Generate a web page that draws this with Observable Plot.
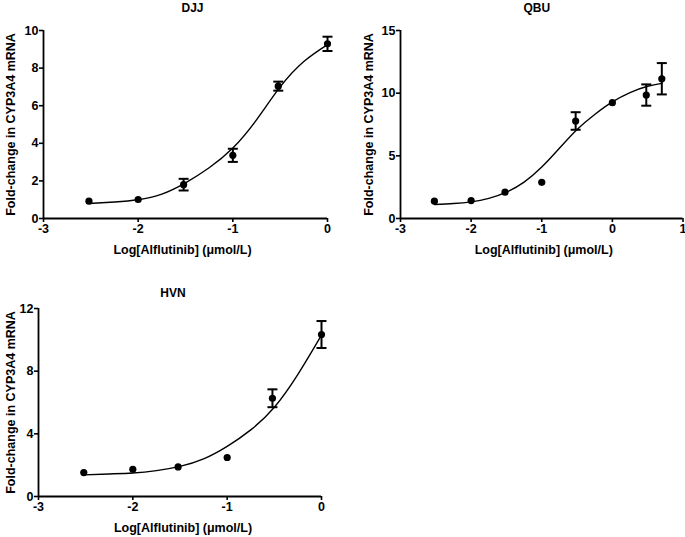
<!DOCTYPE html>
<html>
<head>
<meta charset="utf-8">
<script src="https://cdn.jsdelivr.net/npm/d3@7"></script>
<script src="https://cdn.jsdelivr.net/npm/@observablehq/plot@0.6"></script>
<style>
  html, body { margin: 0; padding: 0; background: #fff; }
  #chart { position: relative; width: 685px; height: 537px; overflow: hidden; background: #fff; }
  .panel { position: absolute; }
  .panel svg { overflow: visible; }
</style>
</head>
<body>
<div id="chart"></div>
<script>
// ---- Data ----
const xAxisLabel = "Log[Alflutinib] (μmol/L)";
const yAxisLabel = "Fold-change in CYP3A4 mRNA";

// DJJ
const djjTitle = "DJJ";
const djjLogDose = [-2.52, -2, -1.52, -1, -0.52, 0];
const djjMean = [0.92, 1.01, 1.80, 3.36, 7.04, 9.29];
const djjSem = [0, 0, 0.31, 0.35, 0.24, 0.38];
const djjCurveX = [-2.52, -2.25, -2, -1.75, -1.5, -1.25, -1, -0.75, -0.5, -0.25, 0];
const djjCurveY = [0.80, 0.88, 1.0, 1.3, 1.9, 2.7, 3.75, 5.25, 7.0, 8.35, 9.25];
const djjXTicks = [-3, -2, -1, 0];
const djjYTicks = [0, 2, 4, 6, 8, 10];

// QBU
const qbuTitle = "QBU";
const qbuLogDose = [-2.52, -2, -1.52, -1, -0.52, 0, 0.48, 0.7];
const qbuMean = [1.38, 1.43, 2.10, 2.89, 7.78, 9.24, 9.85, 11.15];
const qbuSem = [0, 0, 0, 0, 0.70, 0, 0.85, 1.25];
const qbuCurveX = [-2.52, -2.25, -2, -1.75, -1.5, -1.25, -1, -0.75, -0.5, -0.25, 0, 0.25, 0.5, 0.7];
const qbuCurveY = [1.12, 1.2, 1.33, 1.6, 2.1, 2.9, 4.1, 5.6, 7.1, 8.3, 9.3, 10.05, 10.55, 10.78];
const qbuXTicks = [-3, -2, -1, 0, 1];
const qbuYTicks = [0, 5, 10, 15];

// HVN
const hvnTitle = "HVN";
const hvnLogDose = [-2.52, -2, -1.52, -1, -0.52, 0];
const hvnMean = [1.53, 1.74, 1.89, 2.49, 6.27, 10.34];
const hvnSem = [0, 0, 0, 0, 0.57, 0.86];
const hvnCurveX = [-2.52, -2.25, -2, -1.75, -1.5, -1.25, -1, -0.75, -0.5, -0.25, 0];
const hvnCurveY = [1.38, 1.44, 1.5, 1.65, 1.92, 2.4, 3.2, 4.25, 5.7, 7.8, 10.3];
const hvnXTicks = [-3, -2, -1, 0];
const hvnYTicks = [0, 4, 8, 12];

// ---- Drawing ----
const FONT = "'Liberation Sans', Arial, Helvetica, sans-serif";
const fmt = d => (d < 0 ? "-" + Math.abs(d) : String(d));
const capSymbol = { draw(ctx) { ctx.moveTo(-5, 0); ctx.lineTo(5, 0); } };

function panel(cfg) {
  const pts = cfg.dose.map((x, i) => ({ x, y: cfg.mean[i], e: cfg.sem[i] }));
  const errs = pts.filter(d => d.e > 0);
  const curve = cfg.curveX.map((x, i) => ({ x, y: cfg.curveY[i] }));
  const xMin = cfg.xTicks[0], xMax = cfg.xTicks[cfg.xTicks.length - 1];
  const yMax = cfg.yTicks[cfg.yTicks.length - 1];
  const svg = Plot.plot({
    width: cfg.width, height: cfg.height,
    marginLeft: cfg.mL, marginRight: cfg.mR, marginTop: cfg.mT, marginBottom: cfg.mB,
    style: { fontFamily: FONT, fontSize: "12.5px", fontWeight: "bold", color: "black", background: "white", overflow: "visible" },
    x: { domain: [xMin, xMax] },
    y: { domain: [0, yMax] },
    marks: [
      Plot.axisX({ ticks: cfg.xTicks, tickFormat: fmt, tickSize: 4, tickPadding: 2, strokeWidth: 1.6, label: null }),
      Plot.axisY({ ticks: cfg.yTicks, tickFormat: fmt, tickSize: 4, tickPadding: 1, strokeWidth: 1.6, label: null }),
      Plot.ruleX([xMin], { y1: 0, y2: yMax, stroke: "black", strokeWidth: 1.8 }),
      Plot.ruleY([0], { x1: xMin, x2: xMax, stroke: "black", strokeWidth: 1.8 }),
      Plot.line(curve, { x: "x", y: "y", curve: "natural", stroke: "black", strokeWidth: 1.4 }),
      Plot.ruleX(errs, { x: "x", y1: d => d.y - d.e, y2: d => d.y + d.e, stroke: "black", strokeWidth: 2 }),
      Plot.dot(errs, { x: "x", y: d => d.y + d.e, symbol: capSymbol, fill: "none", stroke: "black", strokeWidth: 2 }),
      Plot.dot(errs, { x: "x", y: d => d.y - d.e, symbol: capSymbol, fill: "none", stroke: "black", strokeWidth: 2 }),
      Plot.dot(pts, { x: "x", y: "y", r: 3.6, fill: "black", stroke: "none" }),
      Plot.text([cfg.title], { text: d => d, frameAnchor: "top", textAnchor: "middle", lineAnchor: "middle", dy: cfg.titleDy, dx: cfg.titleDx, fontSize: 12, fontWeight: "bold" }),
      Plot.text([xAxisLabel], { text: d => d, frameAnchor: "bottom", textAnchor: "middle", lineAnchor: "middle", dy: 31, dx: cfg.xLabDx, fontSize: 12.5, fontWeight: "bold" }),
      Plot.text([yAxisLabel], { text: d => d, frameAnchor: "left", textAnchor: "middle", lineAnchor: "middle", rotate: -90, dx: cfg.yLabDx, fontSize: 12.5, fontWeight: "bold" })
    ]
  });
  const div = document.createElement("div");
  div.className = "panel";
  div.style.left = cfg.left + "px";
  div.style.top = cfg.top + "px";
  div.appendChild(svg);
  document.getElementById("chart").appendChild(div);
}

panel({ left: 0, top: 0, width: 340, height: 260, mL: 43, mR: 13, mT: 30, mB: 42,
  title: djjTitle, titleDx: 7, titleDy: -22, xLabDx: -3, yLabDx: -33,
  dose: djjLogDose, mean: djjMean, sem: djjSem, curveX: djjCurveX, curveY: djjCurveY,
  xTicks: djjXTicks, yTicks: djjYTicks });

panel({ left: 340, top: 0, width: 345, height: 260, mL: 60, mR: 2.5, mT: 30, mB: 42,
  title: qbuTitle, titleDx: -5, titleDy: -22, xLabDx: 2, yLabDx: -32,
  dose: qbuLogDose, mean: qbuMean, sem: qbuSem, curveX: qbuCurveX, curveY: qbuCurveY,
  xTicks: qbuXTicks, yTicks: qbuYTicks });

panel({ left: 0, top: 280, width: 340, height: 257, mL: 38, mR: 19, mT: 28, mB: 41,
  title: hvnTitle, titleDx: -7, titleDy: -15, xLabDx: 3, yLabDx: -28,
  dose: hvnLogDose, mean: hvnMean, sem: hvnSem, curveX: hvnCurveX, curveY: hvnCurveY,
  xTicks: hvnXTicks, yTicks: hvnYTicks });
</script>
</body>
</html>
